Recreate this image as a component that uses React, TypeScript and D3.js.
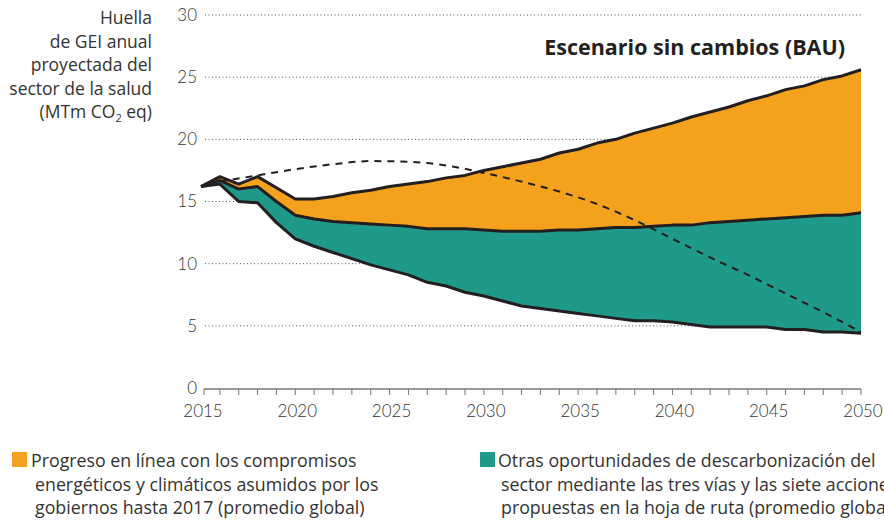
import React from 'react';
import * as d3 from 'd3';

// años
const years = d3.range(2015, 2051);

// huella total BAU (borde superior naranja)
const bauTotal = [16.2, 17.0, 16.4, 17.0, 16.1, 15.2, 15.2, 15.4, 15.7, 15.9, 16.2, 16.4, 16.6, 16.9, 17.1, 17.5, 17.8, 18.1, 18.4, 18.9, 19.2, 19.7, 20.0, 20.5, 20.9, 21.3, 21.8, 22.2, 22.6, 23.1, 23.5, 24.0, 24.3, 24.8, 25.1, 25.6];
// tras compromisos de los gobiernos (borde naranja / verde)
const afterCommitments = [16.2, 16.7, 16.0, 16.2, 15.0, 13.9, 13.6, 13.4, 13.3, 13.2, 13.1, 13.0, 12.8, 12.8, 12.8, 12.7, 12.6, 12.6, 12.6, 12.7, 12.7, 12.8, 12.9, 12.9, 13.0, 13.1, 13.1, 13.3, 13.4, 13.5, 13.6, 13.7, 13.8, 13.9, 13.9, 14.1];
// tras otras oportunidades (borde inferior verde)
const afterRoadmap = [16.2, 16.4, 15.0, 14.9, 13.3, 12.0, 11.4, 10.9, 10.4, 9.9, 9.5, 9.1, 8.5, 8.2, 7.7, 7.4, 7.0, 6.6, 6.4, 6.2, 6.0, 5.8, 5.6, 5.4, 5.4, 5.3, 5.1, 4.9, 4.9, 4.9, 4.9, 4.7, 4.7, 4.5, 4.5, 4.4];

// trayectoria discontinua
const dashedYears = [2016, 2018, 2020, 2022, 2024, 2026, 2028, 2030, 2032, 2034, 2036, 2038, 2040, 2042, 2044, 2046, 2048, 2050];
const dashedValues = [16.6, 17.1, 17.6, 18.0, 18.25, 18.2, 17.9, 17.3, 16.6, 15.8, 14.8, 13.5, 12.0, 10.5, 9.1, 7.6, 6.1, 4.5];

const yTicks = [0, 5, 10, 15, 20, 25, 30];
const xLabels = [2015, 2020, 2025, 2030, 2035, 2040, 2045, 2050];

const yTitle = ['Huella', 'de GEI anual', 'proyectada del', 'sector de la salud'];
const legendOrange = ['Progreso en línea con los compromisos', 'energéticos y climáticos asumidos por los', 'gobiernos hasta 2017 (promedio global)'];
const legendTeal = ['Otras oportunidades de descarbonización del', 'sector mediante las tres vías y las siete acciones', 'propuestas en la hoja de ruta (promedio global)'];

const ORANGE = '#F4A21E';
const TEAL = '#1F9A8A';
const INK = '#231F20';
const FONT = 'Lato, "Open Sans", sans-serif';
const WIDE = '"Open Sans", sans-serif';

export default function App() {
  const width = 884;
  const height = 520;
  const x = d3.scaleLinear().domain([2015, 2050]).range([201, 861]);
  const y = d3.scaleLinear().domain([0, 30]).range([388, 15]);

  const idx = years.map((_, i) => i);
  const orangeArea = d3.area<number>()
    .x(i => x(years[i]))
    .y0(i => y(afterCommitments[i]))
    .y1(i => y(bauTotal[i]))(idx);
  const tealArea = d3.area<number>()
    .x(i => x(years[i]))
    .y0(i => y(afterRoadmap[i]))
    .y1(i => y(afterCommitments[i]))(idx);
  const line = (vals: number[]) => d3.line<number>().x(i => x(years[i])).y(i => y(vals[i]))(idx);
  const dashed = d3.line<number>()
    .x(i => x(dashedYears[i]))
    .y(i => y(dashedValues[i]))
    .curve(d3.curveMonotoneX)(dashedYears.map((_, i) => i));

  return (
    <svg width={width} height={height} style={{ position: 'absolute', left: 0, top: 0 }} fontFamily={FONT}>
      <rect width={width} height={height} fill="#fff" />
      {/* rejilla */}
      {yTicks.filter(t => t > 0).map(t => (
        <line key={t} x1={205} x2={862} y1={y(t)} y2={y(t)} stroke="#555" strokeWidth={1} strokeDasharray="1,2.5" />
      ))}
      {yTicks.map(t => (
        <text key={t} x={197} y={y(t)} dy="0.35em" textAnchor="end" fontSize={17} fill="#333" fontWeight={300}>{t}</text>
      ))}
      {/* eje x */}
      <line x1={x(2015) + 3} x2={x(2050)} y1={y(0) + 1} y2={y(0) + 1} stroke="#777" strokeWidth={1.5} />
      {years.map(yr => (
        <line key={yr} x1={x(yr) + (yr === 2015 ? 3 : 0)} x2={x(yr) + (yr === 2015 ? 3 : 0)} y1={y(0) + 1} y2={y(0) + 7} stroke="#777" strokeWidth={1} />
      ))}
      {xLabels.map(yr => (
        <text key={yr} x={x(yr) + 2} y={417} textAnchor="middle" fontSize={17} fill="#333" fontWeight={300}>{yr}</text>
      ))}
      {/* áreas */}
      <path d={orangeArea ?? ''} fill={ORANGE} />
      <path d={tealArea ?? ''} fill={TEAL} />
      <path d={line(bauTotal) ?? ''} fill="none" stroke={INK} strokeWidth={3} strokeLinejoin="round" />
      <path d={line(afterCommitments) ?? ''} fill="none" stroke={INK} strokeWidth={3} strokeLinejoin="round" />
      <path d={line(afterRoadmap) ?? ''} fill="none" stroke={INK} strokeWidth={3} strokeLinejoin="round" />
      <path d={dashed ?? ''} fill="none" stroke={INK} strokeWidth={2} strokeDasharray="7,6" />
      {/* título */}
      <text x={845} y={55} textAnchor="end" fontSize={21.5} fontWeight={700} fill={INK} fontFamily={WIDE}>Escenario sin cambios (BAU)</text>
      {/* título eje y */}
      {yTitle.map((s, i) => (
        <text key={s} x={152} y={24 + i * 23.5} textAnchor="end" fontSize={17.5} fill="#333" fontFamily={WIDE}>{s}</text>
      ))}
      <text x={152} y={118} textAnchor="end" fontSize={17.5} fill="#333" fontFamily={WIDE}>
        (MTm CO<tspan fontSize={11} dy={4}>2</tspan><tspan dy={-4}> eq)</tspan>
      </text>
      {/* leyenda */}
      <rect x={12} y={452} width={15} height={15} fill={ORANGE} />
      {legendOrange.map((s, i) => (
        <text key={s} x={i === 0 ? 31 : 35} y={467 + i * 23.5} fontSize={17.8} fill="#333" fontFamily={WIDE}>{s}</text>
      ))}
      <rect x={480} y={452} width={15} height={15} fill={TEAL} />
      {legendTeal.map((s, i) => (
        <text key={s} x={i === 0 ? 498 : 501} y={467 + i * 23.5} fontSize={17.8} fill="#333" fontFamily={WIDE}>{s}</text>
      ))}
    </svg>
  );
}
